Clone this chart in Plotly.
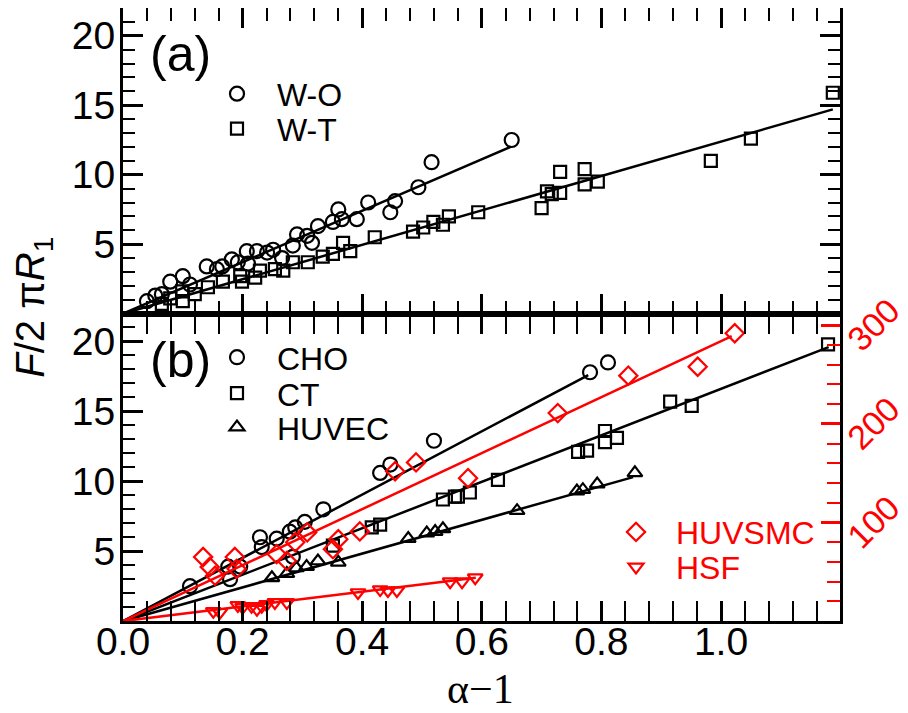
import plotly.graph_objects as go

# ---------------- data: panel (a) ----------------
wo_x = [0.040, 0.054, 0.065, 0.079, 0.100, 0.112, 0.140, 0.157, 0.166, 0.182, 0.192, 0.207, 0.209,
        0.224, 0.241, 0.251, 0.266, 0.284, 0.291, 0.308, 0.316, 0.326, 0.351, 0.360, 0.366, 0.391,
        0.410, 0.447, 0.455, 0.494, 0.516, 0.650]
wo_y = [0.9, 1.3, 1.4, 2.3, 2.7, 2.1, 3.4, 3.2, 3.4, 3.9, 3.7, 4.5, 3.6,
        4.5, 4.4, 4.6, 4.0, 4.9, 5.7, 5.6, 5.1, 6.3, 6.6, 7.5, 6.8, 6.8,
        8.0, 7.3, 8.1, 9.1, 10.9, 12.5]
wt_x = [0.065, 0.079, 0.100, 0.099, 0.120, 0.142, 0.167, 0.196, 0.199, 0.221, 0.229, 0.254, 0.268,
        0.284, 0.309, 0.334, 0.351, 0.368, 0.380, 0.421, 0.485, 0.502, 0.519, 0.535, 0.545, 0.594,
        0.700, 0.709, 0.717, 0.731, 0.731, 0.772, 0.772, 0.794, 0.983, 1.050, 1.187]
wt_y = [0.7, 1.1, 0.9, 1.6, 1.4, 1.9, 2.3, 2.7, 2.3, 2.6, 3.1, 3.2, 3.1,
        3.7, 3.7, 4.1, 4.3, 5.1, 4.5, 5.5, 5.9, 6.2, 6.6, 6.4, 7.0, 7.3,
        7.6, 8.8, 8.6, 8.7, 10.2, 10.4, 9.3, 9.5, 11.0, 12.6, 15.9]
wo_fit_x = [0.0, 0.648]
wo_fit_y = [0.0, 12.0]
wt_fit_x = [0.0, 1.187]
wt_fit_y = [0.0, 14.7]

# ---------------- data: panel (b), left axis ----------------
cho_x = [0.112, 0.179, 0.176, 0.196, 0.229, 0.232, 0.257, 0.279, 0.288, 0.284, 0.304, 0.335,
         0.430, 0.447, 0.520, 0.781, 0.811]
cho_y = [2.5, 3.0, 3.9, 3.9, 6.0, 5.3, 5.9, 6.4, 6.7, 4.6, 7.1, 8.0,
         10.6, 11.2, 12.9, 17.8, 18.5]
ct_x = [0.351, 0.416, 0.430, 0.535, 0.555, 0.560, 0.580, 0.627, 0.761, 0.776, 0.806, 0.806,
        0.826, 0.915, 0.951, 1.179]
ct_y = [5.4, 6.7, 6.9, 8.7, 8.9, 8.9, 9.2, 10.1, 12.1, 12.2, 13.6, 12.8,
        13.1, 15.7, 15.4, 19.8]
huvec_x = [0.249, 0.274, 0.290, 0.307, 0.326, 0.360, 0.477, 0.508, 0.522, 0.535, 0.659, 0.759,
           0.769, 0.793, 0.856]
huvec_y = [3.1, 3.4, 3.8, 3.9, 4.3, 4.2, 5.9, 6.3, 6.4, 6.6, 7.9, 9.3,
           9.4, 9.8, 10.6]
cho_fit_x = [0.0, 0.778]
cho_fit_y = [0.0, 17.6]
ct_fit_x = [0.0, 1.18]
ct_fit_y = [0.0, 19.6]
huvec_fit_x = [0.0, 0.853]
huvec_fit_y = [0.0, 10.3]

# ---------------- data: panel (b), right axis ----------------
huvsmc_x = [0.134, 0.145, 0.154, 0.187, 0.190, 0.257, 0.274, 0.288, 0.308, 0.351, 0.360, 0.396,
            0.455, 0.490, 0.577, 0.727, 0.845, 0.961, 1.023]
huvsmc_y = [65, 55, 46, 65, 53, 68, 61, 80, 90, 73, 83, 91,
            152, 161, 145, 211, 249, 258, 292]
hsf_x = [0.151, 0.162, 0.192, 0.200, 0.215, 0.224, 0.232, 0.240, 0.254, 0.274, 0.393, 0.430,
         0.443, 0.458, 0.547, 0.567, 0.589]
hsf_y = [10, 9, 16, 14, 15, 12, 15, 17, 19, 19, 29, 32,
         31, 31, 40, 40, 44]
huvsmc_fit_x = [0.0, 1.018]
huvsmc_fit_y = [0.0, 289]
hsf_fit_x = [0.0, 0.59]
hsf_fit_y = [0.0, 44]

x_range = [0.0, 1.199]
y_range = [0.01, 22.0]
r_range = [0.1, 312.0]

# ---------------- figure ----------------
SANS = "Liberation Sans, Arial, sans-serif"
RED = "#ff0000"
fig = go.Figure()


def pts(x, y, sym, size, color, name, xa, ya, legend):
    fig.add_trace(go.Scatter(
        x=x, y=y, mode="markers", name=name, xaxis=xa, yaxis=ya, legend=legend,
        marker=dict(symbol=sym, size=size, color=color, line=dict(width=2.2, color=color)),
        cliponaxis=False))


def fit(x, y, color, xa, ya):
    fig.add_trace(go.Scatter(
        x=x, y=y, mode="lines", xaxis=xa, yaxis=ya, showlegend=False,
        line=dict(color=color, width=2.5)))


# panel (a)
fit(wo_fit_x, wo_fit_y, "black", "x2", "y2")
fit(wt_fit_x, wt_fit_y, "black", "x2", "y2")
pts(wo_x, wo_y, "circle-open", 14, "black", "W-O", "x2", "y2", "legend")
pts(wt_x, wt_y, "square-open", 12, "black", "W-T", "x2", "y2", "legend2")

# panel (b)
fit(cho_fit_x, cho_fit_y, "black", "x", "y")
fit(ct_fit_x, ct_fit_y, "black", "x", "y")
fit(huvec_fit_x, huvec_fit_y, "black", "x", "y")
fit(huvsmc_fit_x, huvsmc_fit_y, RED, "x", "y3")
fit(hsf_fit_x, hsf_fit_y, RED, "x", "y3")
pts(cho_x, cho_y, "circle-open", 14, "black", "CHO", "x", "y", "legend3")
pts(ct_x, ct_y, "square-open", 12, "black", "CT", "x", "y", "legend4")
pts(huvec_x, huvec_y, "triangle-up-open", 13, "black", "HUVEC", "x", "y", "legend5")
pts(huvsmc_x, huvsmc_y, "diamond-open", 14, RED, "HUVSMC", "x", "y3", "legend6")
pts(hsf_x, hsf_y, "triangle-down-open", 13, RED, "HSF", "x", "y3", "legend7")

tickfont = dict(family=SANS, size=39, color="black")
xcommon = dict(range=x_range, tickmode="linear", tick0=0, dtick=0.2, tickformat=".1f",
               ticks="inside", ticklen=20, tickwidth=3, tickcolor="black", showline=True,
               linewidth=3, linecolor="black", mirror="allticks", showgrid=False,
               zeroline=False, automargin=False, ticklabelstandoff=-16,
               minor=dict(tickmode="linear", tick0=0, dtick=0.04, ticks="inside", ticklen=13,
                          tickwidth=2, tickcolor="black", showgrid=False),
               tickfont=tickfont)
ycommon = dict(range=y_range, tickmode="linear", tick0=0, dtick=5, ticks="inside", ticklen=20,
               tickwidth=3, tickcolor="black", showline=True, linewidth=3, linecolor="black",
               showgrid=False, zeroline=False, automargin=False, ticklabelstandoff=-3,
               minor=dict(tickmode="linear", tick0=0, dtick=1, ticks="inside", ticklen=12,
                          tickwidth=2, tickcolor="black", showgrid=False),
               tickfont=tickfont)


def leg(x, y, color):
    return dict(x=x, y=y, xanchor="left", yanchor="middle", bgcolor="rgba(0,0,0,0)",
                itemwidth=70, font=dict(family=SANS, size=32, color=color))


# the page body adds an 8 px offset; the figure is sized to fill the rest of the window
split = 0.5016
fig.update_layout(
    width=900, height=705, autosize=False,
    margin=dict(l=115, r=68, t=0, b=92, pad=0),
    paper_bgcolor="white", plot_bgcolor="white",
    font=dict(family=SANS, color="black"),
    xaxis=dict(**xcommon, domain=[0, 1], anchor="y"),
    xaxis2=dict(**xcommon, domain=[0, 1], anchor="y2", matches="x", showticklabels=False),
    yaxis=dict(**ycommon, domain=[0, split], anchor="x", mirror=False),
    yaxis2=dict(**ycommon, domain=[split, 1], anchor="x2", mirror="allticks"),
    yaxis3=dict(range=r_range, tickmode="linear", tick0=0, dtick=100, overlaying="y",
                side="right", anchor="x", automargin=False,
                ticks="inside", ticklen=19, tickwidth=3, tickcolor=RED, showline=True,
                linewidth=3, linecolor="black", showgrid=False, zeroline=False,
                tickangle=-45, ticklabelshift=21,
                minor=dict(tickmode="linear", tick0=0, dtick=20, ticks="inside", ticklen=13,
                           tickwidth=2, tickcolor=RED, showgrid=False),
                tickfont=dict(family=SANS, size=34, color=RED)),
    legend=leg(0.1032, 0.8599, "black"),
    legend2=leg(0.1032, 0.8029, "black"),
    legend3=leg(0.1032, 0.4300, "black"),
    legend4=leg(0.1032, 0.3713, "black"),
    legend5=leg(0.1032, 0.3160, "black"),
    legend6=leg(0.6597, 0.1450, RED),
    legend7=leg(0.6597, 0.0879, RED),
    annotations=[
        dict(text="(a)", x=0.0795, y=0.925, xref="paper", yref="paper", showarrow=False,
             xanchor="center", yanchor="middle", font=dict(family=SANS, size=50)),
        dict(text="(b)", x=0.0795, y=0.425, xref="paper", yref="paper", showarrow=False,
             xanchor="center", yanchor="middle", font=dict(family=SANS, size=50)),
        dict(text="<i>F</i>/2 π<i>R</i><sub>1</sub>", x=-0.1255, y=0.511, xref="paper",
             yref="paper", showarrow=False, textangle=-90, xanchor="center",
             yanchor="middle", font=dict(family=SANS, size=40)),
        dict(text="α−1", x=0.498, y=-0.1108, xref="paper", yref="paper", showarrow=False,
             xanchor="center", yanchor="middle",
             font=dict(family="Liberation Serif, Times New Roman, serif", size=42)),
    ],
)

fig.write_html("out.html")
